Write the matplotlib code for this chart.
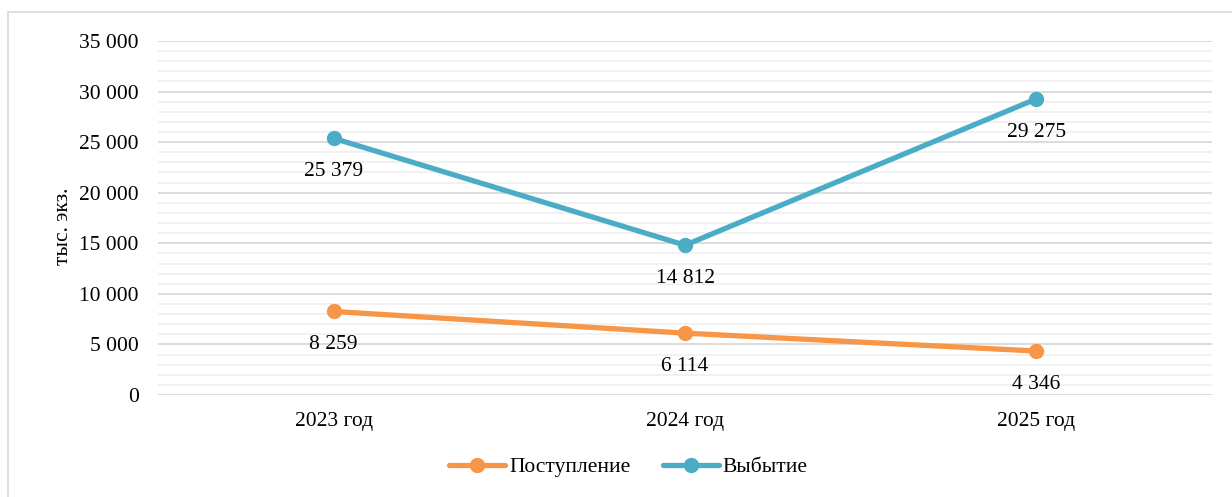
import matplotlib.pyplot as plt
from matplotlib.patches import Rectangle
from matplotlib.ticker import MultipleLocator, FuncFormatter

plt.rcParams["font.family"] = ["Liberation Serif", "DejaVu Serif"]

years = ["2023 год", "2024 год", "2025 год"]
postuplenie = [8259, 6114, 4346]
vybytie = [25379, 14812, 29275]

c_post = "#f79646"
c_vyb = "#4bacc6"

fig = plt.figure(figsize=(12.32, 4.97), dpi=100)
ax = fig.add_axes([158 / 1232, 1 - 395 / 497, (1212 - 158) / 1232, (395 - 41) / 497])

# рамка вокруг диаграммы (частично обрезана справа и снизу)
fig.patches.append(Rectangle((8 / 1232, -0.1), 1.2, 1 - 12 / 497 + 0.1,
                             transform=fig.transFigure, fill=False,
                             edgecolor="#d9d9d9", linewidth=1.2))

x = [i + 0.5 for i in range(len(years))]
ax.plot(x, postuplenie, color=c_post, linewidth=3.8, marker="o", markersize=10,
        solid_capstyle="round", label="Поступление")
ax.plot(x, vybytie, color=c_vyb, linewidth=3.8, marker="o", markersize=10,
        solid_capstyle="round", label="Выбытие")

def fmt(v):
    return f"{int(v):,}".replace(",", " ")

for xs, ys in [(x, postuplenie), (x, vybytie)]:
    for xi, yi in zip(xs, ys):
        ax.annotate(fmt(yi), xy=(xi, yi), xytext=(0, -24), textcoords="offset points",
                    ha="center", va="center", fontsize=15.5, color="#000000")

ax.set_xlim(0, 3)
ax.set_ylim(0, 35000)
ax.set_xticks(x)
ax.set_xticklabels(years, fontsize=15.5)
ax.yaxis.set_major_locator(MultipleLocator(5000))
ax.yaxis.set_minor_locator(MultipleLocator(1000))
ax.yaxis.set_major_formatter(FuncFormatter(lambda v, p: fmt(v)))
ax.tick_params(axis="y", labelsize=15.5, length=0, pad=14, which="both")
ax.tick_params(axis="x", length=0, pad=12)
ax.grid(axis="y", which="major", color="#d9d9d9", linewidth=1.3)
ax.grid(axis="y", which="minor", color="#f0f0f0", linewidth=1.3)
ax.set_axisbelow(True)
for s in ax.spines.values():
    s.set_visible(False)

ax.set_ylabel("тыс. экз.", fontsize=15.5)
ax.yaxis.set_label_coords(-0.081, 0.477)

fig.legend(loc="center", bbox_to_anchor=(0.51, 1 - 467 / 497), ncol=2, frameon=False,
           fontsize=15.5, handlelength=2.6, columnspacing=1.5, handletextpad=0.2)

fig.savefig("out.png", dpi=100)
